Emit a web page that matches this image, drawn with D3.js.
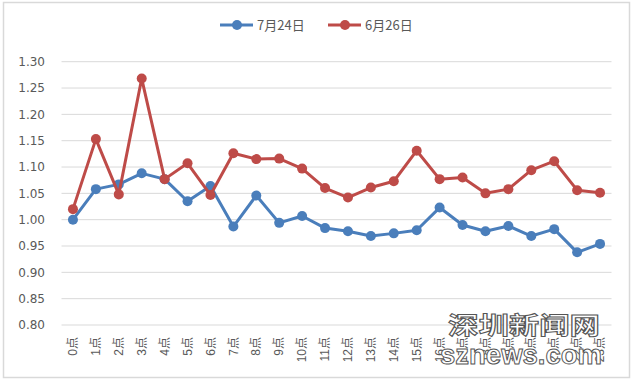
<!DOCTYPE html>
<html><head><meta charset="utf-8">
<script src="https://cdn.jsdelivr.net/npm/d3@7"></script>
<style>body{margin:0;background:#fff}svg{display:block}</style>
</head><body>
<script>
const categories = ["0点","1点","2点","3点","4点","5点","6点","7点","8点","9点","10点","11点","12点","13点","14点","15点","16点","17点","18点","19点","20点","21点","22点","23点"];
const seriesNames = ["7月24日","6月26日"];
const julyValues = [1.000,1.058,1.067,1.088,1.077,1.035,1.064,0.987,1.046,0.994,1.007,0.984,0.978,0.969,0.974,0.980,1.023,0.990,0.978,0.988,0.969,0.982,0.938,0.954];
const juneValues = [1.020,1.153,1.048,1.268,1.077,1.107,1.047,1.126,1.115,1.116,1.097,1.060,1.042,1.061,1.073,1.131,1.077,1.080,1.050,1.058,1.094,1.111,1.056,1.051];
const yTicks = [0.80,0.85,0.90,0.95,1.00,1.05,1.10,1.15,1.20,1.25,1.30];
const colors = ["#4A7EBB","#BE4B48"];

const W=634,H=382;
const svg=d3.select("body").append("svg").attr("width",W).attr("height",H);
svg.append("rect").attr("x",3.5).attr("y",2.5).attr("width",626).attr("height",375)
  .attr("fill","#fff").attr("stroke","#d9d9d9").attr("stroke-width",1.5);

const x=d3.scaleBand().domain(categories).range([61.5,611.5]);
const y=d3.scaleLinear().domain([0.80,1.30]).range([325,61.7]);

// gridlines
svg.append("g").selectAll("line").data(yTicks).join("line")
  .attr("x1",61.5).attr("x2",611.5).attr("y1",d=>y(d)).attr("y2",d=>y(d))
  .attr("stroke","#d9d9d9").attr("stroke-width",1);

// y axis
const ya=svg.append("g").attr("transform","translate(50,0)")
  .call(d3.axisLeft(y).tickValues(yTicks).tickFormat(d3.format(".2f")).tickSize(0).tickPadding(5));
ya.select(".domain").remove();
ya.selectAll("text").attr("font-family","DejaVu Sans, sans-serif").attr("font-size",12).attr("fill","#595959");

// x axis labels
const xa=svg.append("g").attr("transform","translate(0,333)")
  .call(d3.axisBottom(x).tickSize(0).tickPadding(0));
xa.select(".domain").remove();
xa.selectAll("text")
  .attr("font-family","Liberation Sans, Noto Sans CJK SC, sans-serif").attr("font-size",12).attr("fill","#595959")
  .attr("text-anchor","end").attr("dy","0.35em")
  .attr("transform","rotate(-90) translate(-4,0)")
  .attr("x",0).attr("y",0);

const series=[julyValues,juneValues];
const line=d3.line().x((d,i)=>x(categories[i])+x.bandwidth()/2).y(d=>y(d));
series.forEach((vals,k)=>{
  const g=svg.append("g");
  g.append("path").datum(vals).attr("d",line).attr("fill","none")
    .attr("stroke",colors[k]).attr("stroke-width",3).attr("stroke-linejoin","round");
  g.selectAll("circle").data(vals).join("circle")
    .attr("cx",(d,i)=>x(categories[i])+x.bandwidth()/2).attr("cy",d=>y(d))
    .attr("r",5).attr("fill",colors[k]);
});

// legend
const lg=[{x:220,tx:257},{x:328,tx:365}];
seriesNames.forEach((n,k)=>{
  const g=svg.append("g");
  g.append("line").attr("x1",lg[k].x).attr("x2",lg[k].x+33).attr("y1",25).attr("y2",25)
    .attr("stroke",colors[k]).attr("stroke-width",3);
  g.append("circle").attr("cx",lg[k].x+17).attr("cy",25).attr("r",5).attr("fill",colors[k]);
  g.append("text").attr("x",lg[k].tx).attr("y",30).text(n)
    .attr("font-family","Noto Sans CJK SC, sans-serif").attr("font-size",13).attr("fill","#595959");
});

// watermark
svg.append("text").attr("x",524).attr("y",334).attr("text-anchor","middle").text("深圳新闻网")
  .attr("font-family","Noto Sans CJK SC, sans-serif").attr("font-size",24).attr("font-weight",700)
  .attr("textLength",152).attr("lengthAdjust","spacingAndGlyphs")
  .attr("fill","#fff").attr("stroke","#555").attr("stroke-width",1);
svg.append("text").attr("x",521).attr("y",364).attr("text-anchor","middle").text("sznews.com")
  .attr("font-family","Liberation Sans, sans-serif").attr("font-size",28).attr("font-weight",700)
  .attr("textLength",162).attr("lengthAdjust","spacingAndGlyphs")
  .attr("fill","#fff").attr("stroke","#555").attr("stroke-width",1);
</script>
</body></html>
